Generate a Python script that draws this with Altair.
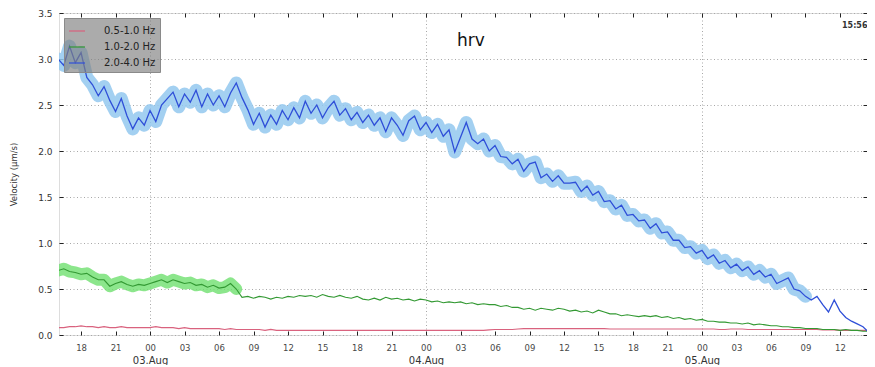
import altair as alt
import pandas as pd

# ---- data (30-minute samples, 02 Aug 16:00 -> 05 Aug 15:00) ----
start_time = "2014-08-02 16:00"
n_points = 143

band_names = ["0.5-1.0 Hz", "1.0-2.0 Hz", "2.0-4.0 Hz"]

pink_vals = [
    0.08, 0.08, 0.09, 0.09, 0.10, 0.09, 0.09, 0.08, 0.09, 0.08, 0.08,
    0.09, 0.08, 0.08, 0.08, 0.08, 0.08, 0.09, 0.08, 0.08, 0.08,
    0.07, 0.08, 0.07, 0.07, 0.07, 0.07, 0.07, 0.07, 0.06, 0.07,
    0.06, 0.06, 0.06, 0.06, 0.06, 0.05, 0.06, 0.05, 0.05, 0.05,
    0.05, 0.05, 0.05, 0.05, 0.05, 0.05, 0.05, 0.05, 0.05, 0.05,
    0.05, 0.05, 0.05, 0.05, 0.05, 0.05, 0.05, 0.05, 0.05, 0.05,
    0.05, 0.05, 0.05, 0.05, 0.05, 0.05, 0.05, 0.05, 0.05, 0.05,
    0.05, 0.05, 0.05, 0.05, 0.055, 0.06, 0.06, 0.06, 0.06, 0.065,
    0.07, 0.07, 0.07, 0.07, 0.07, 0.07, 0.07, 0.07, 0.07, 0.07,
    0.07, 0.07, 0.07, 0.07, 0.07, 0.065, 0.065, 0.065, 0.065, 0.065,
    0.065, 0.065, 0.065, 0.065, 0.065, 0.065, 0.065, 0.065, 0.065, 0.065,
    0.065, 0.065, 0.065, 0.065, 0.06, 0.06, 0.065, 0.065, 0.065, 0.06,
    0.06, 0.06, 0.06, 0.06, 0.06, 0.06, 0.06, 0.06, 0.06, 0.06,
    0.06, 0.06, 0.055, 0.055, 0.055, 0.05, 0.05, 0.05, 0.05, 0.05, 0.05, 0.05,
]

green_vals = [
    0.70, 0.72, 0.69, 0.68, 0.66, 0.67, 0.63, 0.60, 0.60, 0.53,
    0.56, 0.58, 0.55, 0.53, 0.55, 0.54, 0.56, 0.58, 0.60, 0.57,
    0.60, 0.58, 0.56, 0.57, 0.54, 0.55, 0.52, 0.54, 0.51, 0.52,
    0.56, 0.50, 0.41, 0.42, 0.40, 0.42, 0.41, 0.39, 0.41, 0.40,
    0.42, 0.41, 0.43, 0.42, 0.43, 0.41, 0.44, 0.42, 0.41, 0.43,
    0.41, 0.40, 0.42, 0.39, 0.38, 0.40, 0.38, 0.41, 0.39, 0.40,
    0.38, 0.39, 0.37, 0.39, 0.38, 0.36, 0.37, 0.35, 0.36, 0.35,
    0.36, 0.34, 0.35, 0.33, 0.34, 0.33, 0.33, 0.31, 0.32, 0.30,
    0.30, 0.28, 0.29, 0.27, 0.29, 0.28, 0.27, 0.29, 0.28, 0.26,
    0.27, 0.25, 0.26, 0.24, 0.27, 0.25, 0.23, 0.23, 0.21, 0.22,
    0.21, 0.20, 0.21, 0.20, 0.21, 0.19, 0.20, 0.18, 0.19, 0.17,
    0.18, 0.16, 0.17, 0.15, 0.15, 0.14, 0.14, 0.13, 0.13, 0.12,
    0.13, 0.11, 0.12, 0.11, 0.10, 0.10, 0.09, 0.09, 0.08, 0.08,
    0.07, 0.07, 0.07, 0.06, 0.06, 0.06, 0.05, 0.06, 0.05, 0.05,
    0.04, 0.04, 0.03,
]

blue_vals = [
    3.00, 2.93, 3.14, 2.96, 3.07, 2.80, 2.72, 2.60, 2.70, 2.55,
    2.43, 2.57, 2.38, 2.24, 2.36, 2.28, 2.44, 2.32, 2.50, 2.57,
    2.64, 2.48, 2.62, 2.53, 2.66, 2.48, 2.62, 2.50, 2.60, 2.48,
    2.63, 2.74, 2.58, 2.45, 2.29, 2.41, 2.26, 2.39, 2.29, 2.44,
    2.34, 2.47, 2.36, 2.54, 2.41, 2.50, 2.36, 2.47, 2.54, 2.39,
    2.46, 2.34, 2.42, 2.31, 2.39, 2.28, 2.36, 2.21, 2.36, 2.28,
    2.17, 2.33, 2.38, 2.23, 2.31, 2.20, 2.29, 2.16, 2.23, 1.99,
    2.15, 2.31, 2.13, 2.08, 2.13, 2.00, 2.06, 1.94, 1.93, 1.86,
    1.91, 1.78, 1.86, 1.88, 1.71, 1.75, 1.67, 1.73, 1.65, 1.65,
    1.66, 1.56, 1.62, 1.52, 1.56, 1.45, 1.46, 1.37, 1.41, 1.30,
    1.31, 1.24, 1.25, 1.16, 1.21, 1.11, 1.12, 1.03, 1.03, 0.95,
    0.96, 0.89, 0.92, 0.83, 0.87, 0.78, 0.81, 0.73, 0.77, 0.70,
    0.74, 0.66, 0.70, 0.63, 0.66, 0.56, 0.59, 0.62, 0.50, 0.48,
    0.42, 0.38, 0.42, 0.33, 0.25, 0.38, 0.26, 0.19, 0.15, 0.12,
    0.09, 0.03, 0.00,
]

green_glow_points = 32   # highlighted part of the 1.0-2.0 Hz trace
blue_glow_points = 131   # highlighted part of the 2.0-4.0 Hz trace

y_ticks = [0.0, 0.5, 1.0, 1.5, 2.0, 2.5, 3.0, 3.5]
end_label = "15:56"
station = "hrv"

# ---- tables ----
times = pd.date_range(start_time, periods=n_points, freq="30min").strftime("%Y-%m-%dT%H:%M:%S")


def frame(vals, band):
    return pd.DataFrame({"time": list(times), "value": vals, "band": band})


pink_df = frame(pink_vals, band_names[0])
green_df = frame(green_vals, band_names[1])
blue_df = frame(blue_vals, band_names[2])
green_glow_df = green_df.iloc[:green_glow_points]
blue_glow_df = blue_df.iloc[:blue_glow_points]


def dt(day, hour, minute=0):
    return alt.DateTime(year=2014, month=8, date=day, hours=hour, minutes=minute)


hour_ticks = [dt(d, h) for d in (2, 3, 4, 5) for h in range(0, 24, 3)
              if (d, h) >= (2, 18) and (d, h) <= (5, 12)]
day_ticks = [dt(3, 0), dt(4, 0), dt(5, 0)]

x_scale = alt.Scale(domain=[dt(2, 16, 5), dt(5, 14, 21)])
y_scale = alt.Scale(domain=[0, 3.5], nice=False, zero=False)
color_scale = alt.Scale(domain=band_names, range=["#d9627e", "#339933", "#2f4fd8"])

FONT = "DejaVu Sans"
GRID = dict(grid=True, gridColor="#a8a8a8", gridDash=[1, 2.5], gridWidth=1)

ax_hours = alt.Axis(orient="bottom", format="%H", values=hour_ticks, ticks=False, domain=False,
                    grid=False, labelPadding=8, labelFontSize=8.5, labelColor="#484848",
                    labelFlush=False, labelOverlap=False, title=None)
ax_dates = alt.Axis(orient="bottom", values=day_ticks, format="%d.%b",
                    ticks=False, domain=False, labelPadding=20, labelFontSize=10,
                    labelColor="#333", labelFlush=False, title=None, **GRID)
ax_bottom_ticks = alt.Axis(orient="bottom", offset=-4, tickSize=4, values=hour_ticks,
                           labels=False, domain=False, grid=False, tickColor="#222", title=None)
ax_top_ticks = alt.Axis(orient="top", offset=-4, tickSize=4, values=hour_ticks,
                        labels=False, domain=False, grid=False, tickColor="#222", title=None)
ax_top_label = alt.Axis(orient="top", offset=-16, values=[dt(5, 14, 21)],
                        labelExpr="'" + end_label + "'",
                        labelAlign="right", ticks=False, domain=False, grid=False, labelPadding=0,
                        labelFontSize=8, labelFontWeight="bold", labelColor="#333",
                        labelFlush=False, labelBound=False, title=None)

ax_y_main = alt.Axis(orient="left", values=y_ticks, format=".1f", ticks=False, domain=False,
                     labelPadding=7, labelFontSize=9, labelColor="#333",
                     title="Velocity (\u03bcm/s)", titleFontSize=8.5, titleFontWeight="normal",
                     titleColor="#333", titlePadding=19, **GRID)
ax_y_lticks = alt.Axis(orient="left", offset=-4, tickSize=4, values=y_ticks, labels=False,
                       domain=False, grid=False, tickColor="#222", title=None)
ax_y_rticks = alt.Axis(orient="right", offset=-4, tickSize=4, values=y_ticks, labels=False,
                       domain=False, grid=False, tickColor="#222", title=None)

legend = alt.Legend(orient="top-left", offset=5, title=None, fillColor="rgba(128,128,128,0.66)",
                    strokeColor="#8a8a8a", padding=4, rowPadding=2, symbolType="stroke",
                    symbolSize=256, symbolStrokeWidth=1.2, labelFontSize=10, labelOffset=18,
                    labelColor="#222", labelFont=FONT)


def layer(df, xaxis, yaxis, mark, with_color=True):
    enc = dict(
        x=alt.X("time:T", scale=x_scale, axis=xaxis),
        y=alt.Y("value:Q", scale=y_scale, axis=yaxis),
    )
    if with_color:
        enc["color"] = alt.Color("band:N", scale=color_scale, legend=legend)
    return alt.Chart(df).mark_line(clip=True, **mark).encode(**enc)


glow_green = layer(green_glow_df, ax_hours, ax_y_main,
                   dict(color="#6fe06f", strokeWidth=12, opacity=0.8, strokeCap="round",
                        strokeJoin="round"), with_color=False)
glow_blue = layer(blue_glow_df, ax_dates, ax_y_lticks,
                  dict(color="#93c8ee", strokeWidth=13, opacity=0.85, strokeCap="round",
                       strokeJoin="round"), with_color=False)
line_pink = layer(pink_df, ax_bottom_ticks, ax_y_rticks, dict(strokeWidth=1.2))
line_green = layer(green_df, ax_top_ticks, None, dict(strokeWidth=1.1))
line_blue = layer(blue_df, ax_top_label, None, dict(strokeWidth=1.3))

chart = (
    alt.layer(glow_green, glow_blue, line_pink, line_green, line_blue)
    .resolve_axis(x="independent", y="independent")
    .properties(
        width=808,
        height=322,
        padding={"left": 51, "top": 5, "right": 0, "bottom": 30},
        autosize=alt.AutoSizeParams(type="none"),
        title=alt.TitleParams(station, fontSize=17, fontWeight="normal", font=FONT,
                              anchor="middle", offset=0, dy=54, dx=8, baseline="alphabetic",
                              color="#111"),
    )
    .configure_view(stroke="#111", strokeWidth=1)
    .configure(font=FONT)
)

chart.save("out.html", embed_options={"renderer": "svg", "actions": False})
